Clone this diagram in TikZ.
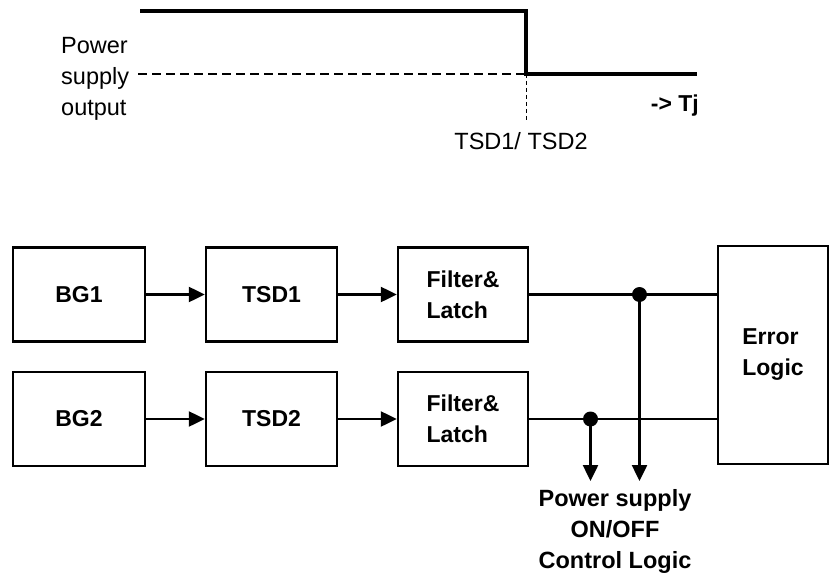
\documentclass[tikz,border=0pt]{standalone}
\usepackage{fontspec}
\setmainfont{Liberation Sans}
\usetikzlibrary{arrows.meta}
\begin{document}
\begin{tikzpicture}[x=1pt,y=-1pt,
  blk/.style={draw,line width=2.5pt,minimum width=131pt,minimum height=94pt,inner sep=0pt,
    font=\fontsize{23}{31}\selectfont\bfseries,align=left},
  wire/.style={line width=2.5pt},
  arr/.style={line width=2.5pt,-{Triangle[length=16pt,width=15pt]}},
  dot/.style={circle,fill=black,inner sep=0pt,minimum size=15pt},
  lbl/.style={font=\fontsize{23.5}{31}\selectfont,inner sep=0pt}]
\useasboundingbox (0,0) rectangle (837,580);
% top timing graph
\coordinate (t0) at (140,11);
\coordinate (t1) at (526,11);
\coordinate (t2) at (526,74);
\coordinate (t3) at (697,74);
\coordinate (d0) at (138,74);
\coordinate (v1) at (526,121);
\draw[line width=3.5pt] (t0) -- (t1) -- (t2) -- (t3);
\draw[line width=2pt,dash pattern=on 9pt off 5pt] (d0) -- (t2);
\draw[line width=0.8pt,dash pattern=on 4pt off 3pt] (t2) -- (v1);
\node[lbl,anchor=west,align=left] (pso) at (61,79) {Power\\supply\\output};
\node[lbl,font=\fontsize{23}{31}\selectfont\bfseries,anchor=east] (tj) at (699,106) {-> Tj};
\node[lbl] (tsd) at (521,141) {TSD1/ TSD2};
% blocks
\node[blk,minimum width=132pt] (bg1) at (79,294.5) {BG1};
\node[blk] (tsd1) at (271.5,294.5) {TSD1};
\node[blk,minimum width=130pt] (fl1) at (463,294.5) {Filter\&\\Latch};
\node[blk,minimum width=132pt] (bg2) at (79,419) {BG2};
\node[blk] (tsd2) at (271.5,419) {TSD2};
\node[blk,minimum width=130pt] (fl2) at (463,419) {Filter\&\\Latch};
\node[blk,minimum width=110pt,minimum height=218pt] (err) at (773,355) {Error\\Logic};
% connectors
\draw[arr] (bg1) -- (tsd1);
\draw[arr] (tsd1) -- (fl1);
\draw[arr] (bg2) -- (tsd2);
\draw[arr] (tsd2) -- (fl2);
\coordinate (e1) at (err.west |- fl1);
\coordinate (e2) at (err.west |- fl2);
\draw[wire] (fl1) -- (e1);
\draw[wire] (fl2) -- (e2);
\node[dot] (j1) at (639.5,294.5) {};
\node[dot] (j2) at (590.5,419) {};
\coordinate (a1) at (639.5,481);
\coordinate (a2) at (590.5,481);
\draw[arr] (j1.center) -- (a1);
\draw[arr] (j2.center) -- (a2);
\node[lbl,font=\fontsize{23.5}{31}\selectfont\bfseries,align=center] (ctl) at (615,531) {Power supply\\ON/OFF\\Control Logic};
\end{tikzpicture}
\end{document}
